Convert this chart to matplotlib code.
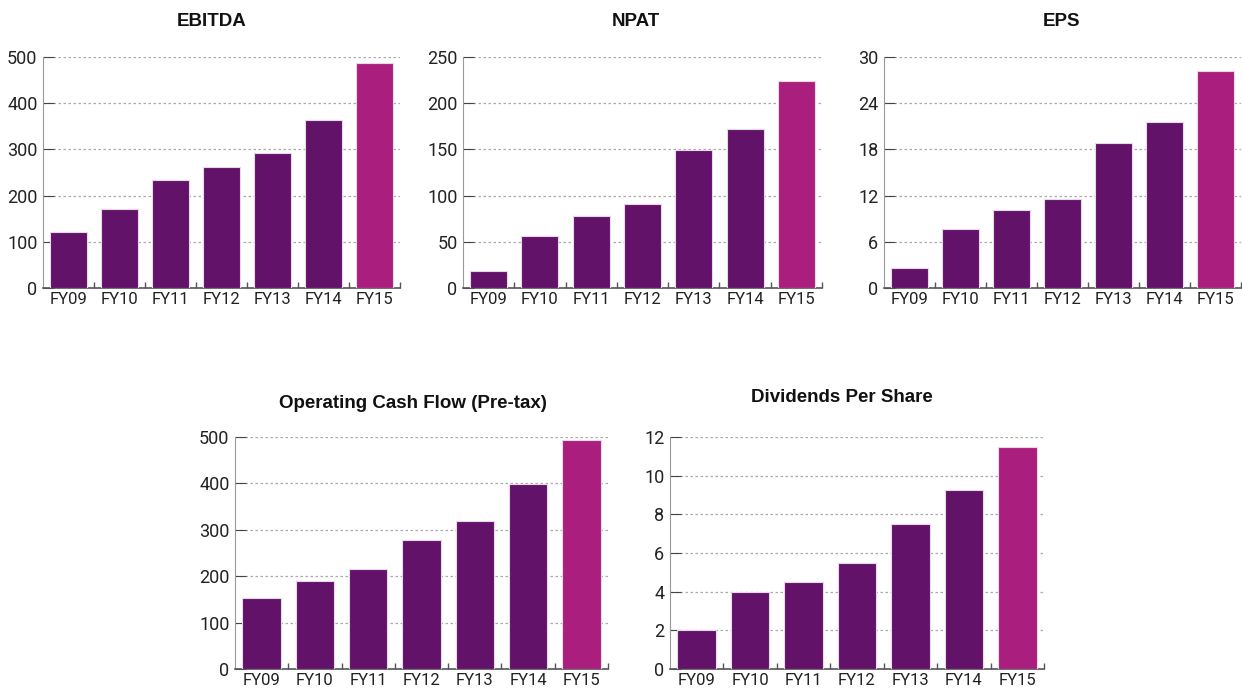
import matplotlib
matplotlib.use("Agg")
import matplotlib.pyplot as plt
from matplotlib.ticker import FixedLocator

years = ["FY09", "FY10", "FY11", "FY12", "FY13", "FY14", "FY15"]

ebitda = [121, 170, 234, 261, 293, 364, 486]
npat = [18, 56, 78, 91, 149, 172, 224]
eps = [2.6, 7.6, 10.1, 11.5, 18.8, 21.6, 28.2]
ocf = [153, 189, 216, 277, 318, 398, 494]
dps = [2.0, 4.0, 4.5, 5.5, 7.5, 9.25, 11.5]

ebitda_ticks = [0, 100, 200, 300, 400, 500]
npat_ticks = [0, 50, 100, 150, 200, 250]
eps_ticks = [0, 6, 12, 18, 24, 30]
ocf_ticks = [0, 100, 200, 300, 400, 500]
dps_ticks = [0, 2, 4, 6, 8, 10, 12]

DARK = "#621268"
HIGHLIGHT = "#AA1F7D"
W, H = 1242, 690

plt.rcParams['font.family'] = ['Roboto', 'DejaVu Sans']

fig = plt.figure(figsize=(W / 100, H / 100), dpi=100)


def px_axes(x0, ybot, w, h):
    return fig.add_axes([x0 / W, 1 - ybot / H, w / W, h / H])


def bar_panel(ax, values, ticks, title, tx, ty):
    colors = [DARK] * (len(values) - 1) + [HIGHLIGHT]
    ax.bar(range(len(values)), values, width=0.72, color=colors,
           edgecolor="#e8d8ea", linewidth=0.8, zorder=3)
    ax.set_xlim(-0.5, len(values) - 0.5)
    ax.set_ylim(0, ticks[-1])
    ax.set_yticks(ticks)
    ax.set_xticks(range(len(values)))
    ax.set_xticklabels(years)
    ax.xaxis.set_minor_locator(FixedLocator([i + 0.5 for i in range(len(values))]))
    ax.tick_params(axis="x", which="major", length=0, labelsize=12,
                   colors="#222222", pad=3)
    ax.tick_params(axis="x", which="minor", length=4, direction="in",
                   color="#555555", width=1)
    ax.tick_params(axis="y", length=8, direction="in", color="#444444",
                   labelsize=13, labelcolor="#222222", pad=4)
    ax.grid(axis="y", linestyle=(0, (2, 2)), color="#aaaaaa", linewidth=0.9,
            zorder=0)
    for s in ["top", "right"]:
        ax.spines[s].set_visible(False)
    ax.spines["left"].set_color("#999999")
    ax.spines["bottom"].set_color("#555555")
    ax.spines["bottom"].set_linewidth(1.2)
    fig.text(tx / W, 1 - ty / H, title, ha="center", va="center",
             fontsize=13.5, fontweight="bold", family="Liberation Sans",
             color="#111111")


ax1 = px_axes(43, 288, 357, 231)
bar_panel(ax1, ebitda, ebitda_ticks, "EBITDA", 212, 22)

ax2 = px_axes(463, 288, 359, 231)
bar_panel(ax2, npat, npat_ticks, "NPAT", 636, 22)

ax3 = px_axes(884, 288, 357, 231)
bar_panel(ax3, eps, eps_ticks, "EPS", 1061, 22)

ax4 = px_axes(235, 669, 373, 232)
bar_panel(ax4, ocf, ocf_ticks, "Operating Cash Flow (Pre-tax)", 413, 403)

ax5 = px_axes(670, 669, 374, 232)
bar_panel(ax5, dps, dps_ticks, "Dividends Per Share", 842, 398)

fig.savefig("out.png", dpi=100)
